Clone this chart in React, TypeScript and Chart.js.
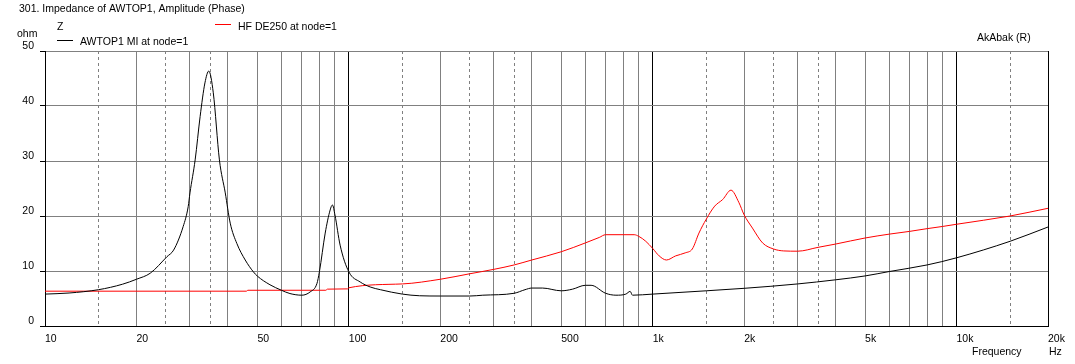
import React, { useEffect, useRef } from "react";
import { Chart, registerables } from "chart.js";

Chart.register(...registerables);

// ---- Data ----
const awtopFreq = [
  10, 12, 15, 18, 20, 22.2, 25.2, 26.5, 28.5, 29.6, 30, 31.2, 32.4, 33.6, 34.6, 35.8, 37.5, 39.2, 40.7, 42.8, 45.6,
  48.5, 50, 55, 60, 64, 70, 74.6, 78.5, 80, 83.6, 86.8, 88.3, 90, 93.6, 100, 109, 117.5, 127, 150, 171, 200, 250,
  276, 350, 380, 400, 434, 500, 545, 600, 627, 700, 757, 816, 843, 858, 1000, 1500, 2000, 3000, 4000, 5000, 6000,
  8000, 10000, 15000, 20000,
];
const awtopOhm = [
  5.8, 6.0, 6.6, 7.6, 8.5, 9.6, 12.6, 13.8, 18.1, 21.7, 24.2, 30.2, 38.1, 44.2, 46.35, 42.4, 30.2, 24.2, 18.7, 15.0, 12.0,
  9.85, 9.07, 7.5, 6.5, 5.9, 5.6, 6.2, 7.7, 9.85, 16.9, 21.1, 22.0, 20.2, 14.7, 9.85, 8.0, 7.1, 6.6, 5.8, 5.5, 5.45, 5.45,
  5.6, 5.95, 6.6, 6.9, 6.9, 6.4, 6.7, 7.4, 7.4, 5.95, 5.6, 5.8, 6.3, 5.6, 5.8, 6.4, 6.85, 7.65, 8.4, 9.1, 9.9,
  11.1, 12.4, 15.4, 18.0,
];

const hfFreq = [
  10, 46, 46.5, 84, 85, 99, 100, 150, 200, 250, 300, 350, 400, 500, 600, 667, 700, 869, 900, 949, 1000, 1050, 1110,
  1190, 1280, 1350, 1420, 1500, 1600, 1700, 1810, 1920, 2000, 2130, 2300, 2500, 2700, 3000, 3500, 4000, 5000, 6000,
  7000, 8000, 9000, 10000, 15000, 20000,
];
const hfOhm = [
  6.33, 6.33, 6.5, 6.5, 6.7, 6.75, 6.95, 7.65, 8.5, 9.5, 10.3, 11.1, 12.0, 13.5, 15.1, 16.1, 16.6, 16.6, 16.3, 15.4, 14.1, 12.75, 12.0,
  12.75, 13.3, 14.0, 16.9, 19.4, 21.8, 23.0, 24.7, 22.5, 20.2, 17.8, 15.1, 14.0, 13.65, 13.6, 14.3, 14.9, 16.0, 16.7,
  17.2, 17.7, 18.1, 18.5, 20.0, 21.4,
];

const xTickValues = [
  10, 15, 20, 25, 30, 35, 40, 50, 60, 70, 80, 90, 100, 150, 200, 250, 300, 350, 400, 500, 600, 700, 800, 900, 1000,
  1500, 2000, 2500, 3000, 3500, 4000, 5000, 6000, 7000, 8000, 9000, 10000, 15000, 20000,
];
const xDashed = [15, 25, 35, 150, 250, 350, 1500, 2500, 3500, 15000];
const xDark = [10, 100, 1000, 10000, 20000];
const xLabelValues = [10, 20, 50, 100, 200, 500, 1000, 2000, 5000, 10000, 20000];
const xLabelTexts = ["10", "20", "50", "100", "200", "500", "1k", "2k", "5k", "10k", "20k"];

const seriesNames = ["AWTOP1 MI at node=1", "HF DE250 at node=1"];
const titleText = "301. Impedance of AWTOP1, Amplitude (Phase)";

const FONT = "Liberation Sans, Arial, sans-serif";
const FS = 10.5;
const GRAY = "#808080";

const textPlugin = {
  id: "akabakText",
  afterDraw(chart: any) {
    const ctx = chart.ctx as CanvasRenderingContext2D;
    ctx.save();
    ctx.font = `${FS}px ${FONT}`;
    ctx.fillStyle = "#000";
    ctx.textBaseline = "alphabetic";
    ctx.textAlign = "left";
    ctx.fillText(titleText, 19, 12);
    ctx.fillText("Z", 57, 30);
    ctx.fillText("ohm", 17, 36.5);
    ctx.fillText("AkAbak (R)", 977, 41);
    ctx.fillText("Frequency", 972, 355);
    ctx.fillText("Hz", 1049, 355);
    // legend: HF DE250 (red)
    ctx.strokeStyle = "#ff0000";
    ctx.lineWidth = 1;
    ctx.beginPath();
    ctx.moveTo(215, 24.5);
    ctx.lineTo(231, 24.5);
    ctx.stroke();
    ctx.fillText(seriesNames[1], 238, 29.5);
    // legend: AWTOP1 (black)
    ctx.strokeStyle = "#000";
    ctx.beginPath();
    ctx.moveTo(57, 40.5);
    ctx.lineTo(73, 40.5);
    ctx.stroke();
    ctx.fillText(seriesNames[0], 80, 44.5);
    ctx.restore();
  },
};

export default function App() {
  const ref = useRef<HTMLCanvasElement | null>(null);

  useEffect(() => {
    if (!ref.current) return;
    const blackData = awtopFreq.map((f, i) => ({ x: f, y: awtopOhm[i] }));
    const redData = hfFreq.map((f, i) => ({ x: f, y: hfOhm[i] }));

    const chart = new Chart(ref.current, {
      type: "line",
      data: {
        datasets: [
          {
            label: seriesNames[0],
            data: blackData,
            borderColor: "#000000",
            borderWidth: 1,
            pointRadius: 0,
            cubicInterpolationMode: "monotone",
            fill: false,
          },
          {
            label: seriesNames[1],
            data: redData,
            borderColor: "#ff0000",
            borderWidth: 1,
            pointRadius: 0,
            cubicInterpolationMode: "monotone",
            fill: false,
          },
        ],
      },
      options: {
        responsive: false,
        animation: false,
        events: [],
        layout: { padding: { left: 0, top: 51, right: 27, bottom: 0 } },
        plugins: {
          legend: { display: false },
          tooltip: { enabled: false },
          title: { display: false },
        },
        scales: {
          x: {
            type: "logarithmic",
            min: 10,
            max: 20000,
            afterBuildTicks: (scale: any) => {
              scale.ticks = xTickValues.map((v) => ({ value: v }));
            },
            afterFit: (scale: any) => {
              scale.height = 38;
            },
            ticks: {
              autoSkip: false,
              maxRotation: 0,
              minRotation: 0,
              align: "start",
              padding: 7,
              color: "#000",
              font: { family: FONT, size: FS },
              callback: (value: any) => {
                const idx = xLabelValues.indexOf(Number(value));
                return idx >= 0 ? xLabelTexts[idx] : "";
              },
            },
            grid: {
              drawTicks: false,
              lineWidth: 1,
              color: (c: any) => {
                const v = c.tick ? c.tick.value : 0;
                return xDark.indexOf(v) >= 0 ? "#000000" : GRAY;
              },
            },
            border: {
              display: true,
              color: "#000",
              width: 1,
              dash: (c: any) => {
                if (!c.tick) return [];
                return xDashed.indexOf(c.tick.value) >= 0 ? [3, 3] : [];
              },
            },
          },
          y: {
            type: "linear",
            min: 0,
            max: 50,
            afterFit: (scale: any) => {
              scale.width = 45;
            },
            ticks: {
              stepSize: 10,
              padding: 6,
              labelOffset: -5,
              color: "#000",
              font: { family: FONT, size: FS },
            },
            grid: {
              drawTicks: true,
              tickLength: 5,
              tickColor: "#000",
              lineWidth: 1,
              color: (c: any) => (c.tick && c.tick.value === 0 ? "#000" : GRAY),
            },
            border: { display: true, color: "#000", width: 1 },
          },
        },
      },
      plugins: [textPlugin],
    });

    return () => chart.destroy();
  }, []);

  return (
    <div style={{ position: "fixed", left: 0, top: 0, width: 1075, height: 364, background: "#fff" }}>
      <canvas ref={ref} width={1075} height={364} style={{ display: "block" }} />
    </div>
  );
}
